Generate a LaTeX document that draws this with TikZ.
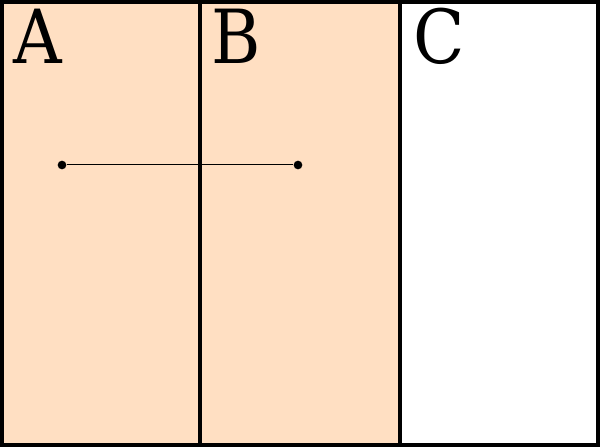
\documentclass[tikz,border=0pt]{standalone}
\usepackage{fontspec}
\setmainfont{DejaVu Serif Condensed}
\usetikzlibrary{positioning}
\definecolor{peach}{HTML}{FFDFC2}

\begin{document}
\begin{tikzpicture}[x=0.75pt,y=0.75pt,
  region/.style={draw=black,line width=3pt},
  letter/.style={anchor=base west,inner sep=0pt,font=\fontsize{56}{56}\selectfont},
  pin/.style={circle,fill=black,inner sep=0pt,minimum size=6.5pt}]
\useasboundingbox (0,0) rectangle (600,447);
% the three regions
\draw[region,fill=peach] (2,2) rectangle (200,445);
\draw[region,fill=peach] (200,2) rectangle (400,445);
\draw[region,fill=white] (400,2) rectangle (598,445);
\node[letter] (labA) at (13,383) {A};
\node[letter] (labB) at (211,383) {B};
\node[letter] (labC) at (413,383) {C};
% segment across the border
\node[pin] (p) at (62,282) {};
\node[pin] (q) at (298,282) {};
\draw[line width=0.75pt] (p) -- (q);
\end{tikzpicture}
\end{document}
